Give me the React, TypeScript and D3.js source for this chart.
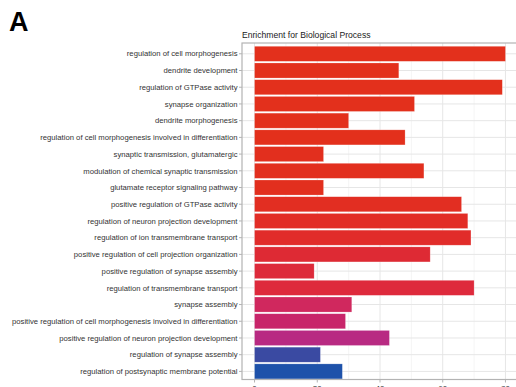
import React from "react";
import * as d3 from "d3";

const terms: string[] = [
  "regulation of cell morphogenesis",
  "dendrite development",
  "regulation of GTPase activity",
  "synapse organization",
  "dendrite morphogenesis",
  "regulation of cell morphogenesis involved in differentiation",
  "synaptic transmission, glutamatergic",
  "modulation of chemical synaptic transmission",
  "glutamate receptor signaling pathway",
  "positive regulation of GTPase activity",
  "regulation of neuron projection development",
  "regulation of ion transmembrane transport",
  "positive regulation of cell projection organization",
  "positive regulation of synapse assembly",
  "regulation of transmembrane transport",
  "synapse assembly",
  "positive regulation of cell morphogenesis involved in differentiation",
  "positive regulation of neuron projection development",
  "regulation of synapse assembly",
  "regulation of postsynaptic membrane potential",
];

const geneCounts: number[] = [
  80, 46, 79, 51, 30, 48, 22, 54, 22, 66, 68, 69, 56, 19, 70, 31, 29, 43, 21, 28,
];

const xTicks: number[] = [0, 20, 40, 60, 80];
const xMinorTicks: number[] = [10, 30, 50, 70];

// fill per term, running from red through crimson and magenta to blue
const barFills: string[] = [
  "#E3301C", "#E3301C", "#E3301C", "#E3301C", "#E3301C", "#E3301C",
  "#E22F1E", "#E22F1E", "#E22F1E", "#E22E22", "#E22D26", "#E12C2A",
  "#DE2A34", "#DD2A3A", "#DE2A3C", "#D0285E", "#C8256A", "#B82A82",
  "#3A4AA2", "#1E52AA",
];

const W = 516;
const H = 387;
const panel = { left: 242, right: 518, top: 43, bottom: 379.5 };

export default function App() {
  const x = d3.scaleLinear().domain([-4, 84]).range([panel.left, panel.right]);
  const y = d3
    .scaleBand<string>()
    .domain(terms)
    .range([44.6, 380.6])
    .paddingInner(0.1)
    .paddingOuter(0.1);

  const font = "'Liberation Sans', Arial, Helvetica, sans-serif";

  return (
    <svg
      width={W}
      height={H}
      style={{ position: "absolute", left: 0, top: 0, background: "#fff" }}
      fontFamily={font}
    >
      <text x={9} y={31} fontSize={27} fontWeight="bold" fill="#000">
        A
      </text>
      <text x={242} y={38} fontSize={8.6} fill="#1a1a1a">
        Enrichment for Biological Process
      </text>

      {/* panel background and grid */}
      <rect
        x={panel.left}
        y={panel.top}
        width={panel.right - panel.left}
        height={panel.bottom - panel.top}
        fill="#fff"
      />
      {xMinorTicks.map((t) => (
        <line
          key={"mn" + t}
          x1={x(t)}
          x2={x(t)}
          y1={panel.top}
          y2={panel.bottom}
          stroke="#F3F3F3"
          strokeWidth={0.8}
        />
      ))}
      {xTicks.map((t) => (
        <line
          key={"mj" + t}
          x1={x(t)}
          x2={x(t)}
          y1={panel.top}
          y2={panel.bottom}
          stroke="#E6E6E6"
          strokeWidth={1}
        />
      ))}
      {terms.map((t) => {
        const cy = (y(t) as number) + y.bandwidth() / 2;
        return (
          <line
            key={"hg" + t}
            x1={panel.left}
            x2={panel.right}
            y1={cy}
            y2={cy}
            stroke="#E6E6E6"
            strokeWidth={1}
          />
        );
      })}

      {/* bars */}
      {terms.map((t, i) => (
        <rect
          key={"b" + t}
          x={x(0)}
          y={y(t) as number}
          width={x(geneCounts[i]) - x(0)}
          height={y.bandwidth()}
          fill={barFills[i]}
          stroke="#ffffff"
          strokeOpacity={0.35}
          strokeWidth={0.6}
        />
      ))}

      {/* panel border */}
      <rect
        x={panel.left}
        y={panel.top}
        width={panel.right - panel.left}
        height={panel.bottom - panel.top}
        fill="none"
        stroke="#B3B3B3"
        strokeWidth={1.2}
      />

      {/* y axis */}
      {terms.map((t) => {
        const cy = (y(t) as number) + y.bandwidth() / 2;
        return (
          <g key={"yl" + t}>
            <line
              x1={panel.left - 3}
              x2={panel.left}
              y1={cy}
              y2={cy}
              stroke="#B3B3B3"
              strokeWidth={1}
            />
            <text
              x={panel.left - 4.5}
              y={cy}
              dy="0.35em"
              textAnchor="end"
              fontSize={7.7}
              fill="#333"
            >
              {t}
            </text>
          </g>
        );
      })}

      {/* x axis */}
      {xTicks.map((t) => (
        <g key={"xl" + t}>
          <line
            x1={x(t)}
            x2={x(t)}
            y1={panel.bottom}
            y2={panel.bottom + 3}
            stroke="#B3B3B3"
            strokeWidth={1}
          />
          <text x={x(t)} y={391} textAnchor="middle" fontSize={8} fill="#333">
            {t}
          </text>
        </g>
      ))}
    </svg>
  );
}
